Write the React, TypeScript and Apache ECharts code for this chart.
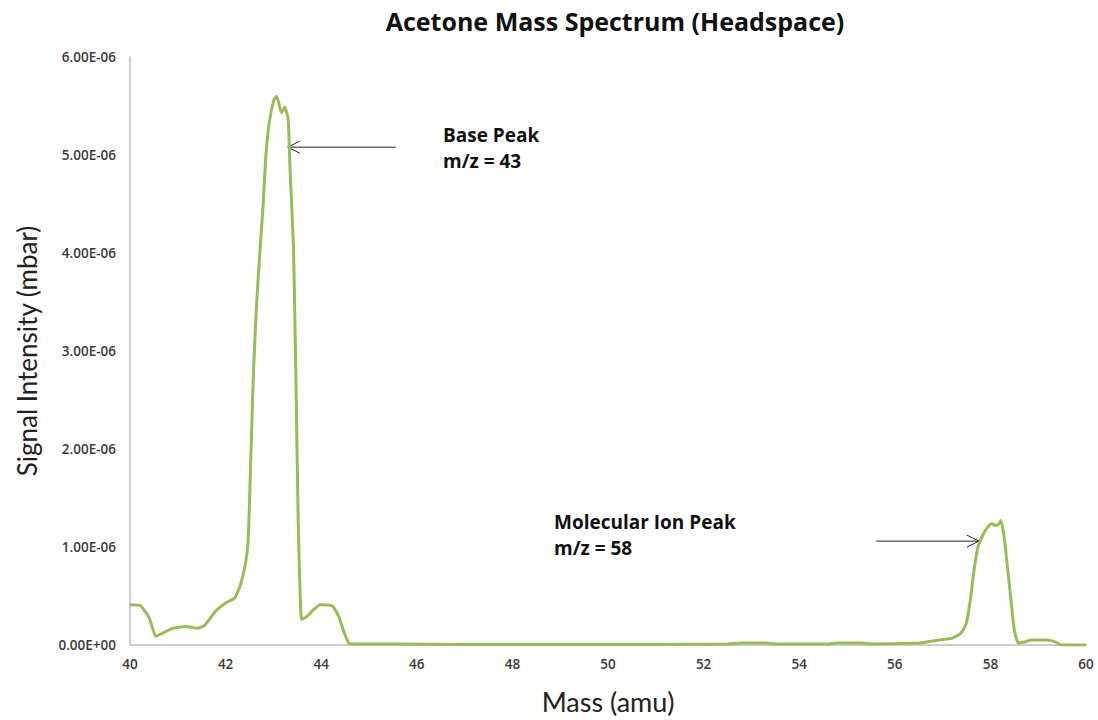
import React, { useEffect, useRef } from "react";
import * as echarts from "echarts";

// Mass axis (amu) and signal intensity in units of 1E-06 mbar
const massAmu: number[] = [
  40.0, 40.22, 40.4, 40.54, 40.68, 40.89, 41.17, 41.42, 41.56, 41.8, 42.01, 42.19, 42.3, 42.4,
  42.47, 42.51, 42.58, 42.65, 42.72, 42.79, 42.84, 42.91, 43.01, 43.07, 43.17, 43.24, 43.31,
  43.35, 43.42, 43.47, 43.52, 43.59, 43.7, 43.84, 43.98, 44.23, 44.37, 44.47, 44.58, 44.7,
  45.5, 47.0, 49.0, 51.0, 52.5, 52.8, 53.3, 53.5, 54.6, 54.8, 55.3, 55.5, 56.5, 56.66, 56.93,
  57.2, 57.38, 57.49, 57.58, 57.66, 57.74, 57.85, 57.94, 58.03, 58.1, 58.17, 58.22, 58.28,
  58.35, 58.43, 58.5, 58.58, 58.7, 58.87, 59.18, 59.37, 59.48, 60.0,
];
const signalMicro: number[] = [
  0.41, 0.4, 0.28, 0.09, 0.12, 0.17, 0.19, 0.17, 0.2, 0.35, 0.43, 0.48, 0.6, 0.79,
  1.05, 1.62, 2.75, 3.5, 4.03, 4.53, 4.98, 5.32, 5.56, 5.6, 5.43, 5.49, 5.36,
  4.83, 4.07, 2.75, 1.24, 0.26, 0.29, 0.36, 0.41, 0.4, 0.29, 0.14, 0.02, 0.01,
  0.01, 0.005, 0.005, 0.005, 0.01, 0.02, 0.02, 0.01, 0.01, 0.02, 0.02, 0.01, 0.02, 0.03, 0.05,
  0.07, 0.12, 0.21, 0.46, 0.77, 1.0, 1.13, 1.2, 1.24, 1.22, 1.23, 1.27, 1.13,
  0.83, 0.46, 0.15, 0.02, 0.03, 0.05, 0.05, 0.03, 0.0, 0.0,
];

// Annotation arrows: [tail mass, head mass, intensity]
const baseArrow = [45.56, 43.3, 5.08];
const molecularArrow = [55.61, 57.76, 1.06];

const titleText = "Acetone Mass Spectrum (Headspace)";
const baseLabel = ["Base Peak", "m/z = 43"];
const molecularLabel = ["Molecular Ion Peak", "m/z = 58"];

const BOLD_FONT = "'Open Sans', sans-serif";
const NAME_FONT = "Lato, 'Open Sans', sans-serif";

const formatIntensity = (v: number) => (v === 0 ? "0.00E+00" : v.toFixed(2) + "E-06");

export default function App() {
  const ref = useRef<HTMLDivElement>(null);

  useEffect(() => {
    if (!ref.current) return;
    const chart = echarts.init(ref.current, undefined, { renderer: "svg" });
    const data = massAmu.map((m, i) => [m, signalMicro[i]]);

    const tickLabel = { fontFamily: BOLD_FONT, fontSize: 13.5, fontWeight: 600, color: "#3a3a3a", margin: 14 };

    chart.setOption({
      animation: false,
      grid: { left: 130, right: 12, top: 57, bottom: 75, outerBoundsMode: "none", containLabel: false },
      xAxis: {
        type: "value",
        min: 40,
        max: 60,
        interval: 2,
        name: "Mass (amu)",
        nameLocation: "middle",
        nameGap: 43,
        nameTextStyle: { fontFamily: NAME_FONT, fontSize: 27, color: "#222" },
        axisLine: { lineStyle: { color: "#bfbfbf", width: 1.5 } },
        axisTick: { show: false },
        splitLine: { show: false },
        axisLabel: { ...tickLabel, margin: 12 },
      },
      yAxis: {
        type: "value",
        min: 0,
        max: 6,
        interval: 1,
        name: "Signal Intensity (mbar)",
        nameLocation: "middle",
        nameGap: 90,
        nameTextStyle: { fontFamily: NAME_FONT, fontSize: 26, color: "#222" },
        axisLine: { show: true, lineStyle: { color: "#bfbfbf", width: 1.5 } },
        axisTick: { show: false },
        splitLine: { show: false },
        axisLabel: { ...tickLabel, formatter: formatIntensity },
      },
      series: [
        {
          type: "line",
          data,
          showSymbol: false,
          smooth: 0.15,
          lineStyle: { color: "#9BBB59", width: 3 },
          itemStyle: { color: "#9BBB59" },
        },
      ],
    });

    const px = (x: number, y: number) => chart.convertToPixel({ gridIndex: 0 }, [x, y]) as number[];
    const arrow = (a: number[]) => {
      const t = px(a[0], a[2]);
      const h = px(a[1], a[2]);
      const dir = Math.sign(t[0] - h[0]);
      return [
        { type: "line", shape: { x1: t[0], y1: t[1], x2: h[0], y2: h[1] }, style: { stroke: "#222", lineWidth: 1 } },
        {
          type: "polyline",
          shape: { points: [[h[0] + dir * 12, h[1] - 6], [h[0], h[1]], [h[0] + dir * 12, h[1] + 6]] },
          style: { stroke: "#222", lineWidth: 1, fill: "none" },
        },
      ];
    };
    const label = (lines: string[], x: number, y: number) =>
      lines.map((s, i) => ({
        type: "text",
        x,
        y: y + i * 26,
        style: { text: s, fontFamily: BOLD_FONT, fontSize: 19, fontWeight: "bold", fill: "#111", textVerticalAlign: "middle" },
      }));

    chart.setOption({
      graphic: [
        {
          type: "text",
          x: 615,
          y: 21,
          style: {
            text: titleText,
            fontFamily: BOLD_FONT,
            fontSize: 25,
            fontWeight: "bold",
            fill: "#111",
            textAlign: "center",
            textVerticalAlign: "middle",
          },
        },
        ...arrow(baseArrow),
        ...arrow(molecularArrow),
        ...label(baseLabel, 443, 135),
        ...label(molecularLabel, 554, 522),
      ],
    });

    return () => chart.dispose();
  }, []);

  return <div ref={ref} style={{ position: "fixed", left: 0, top: 0, width: 1098, height: 720, background: "#fff" }} />;
}
